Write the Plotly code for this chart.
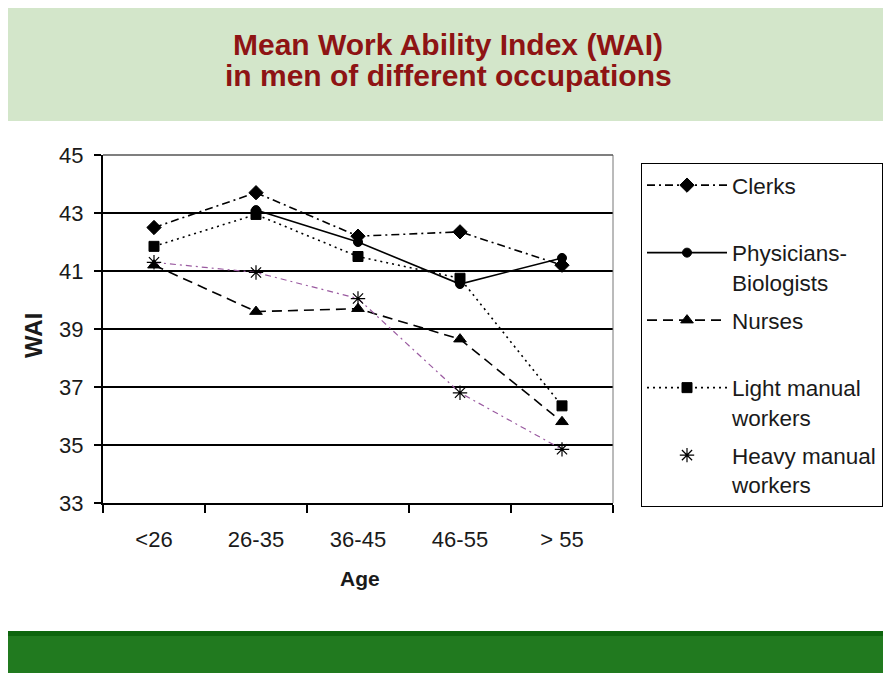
import plotly.graph_objects as go

ages = ["<26", "26-35", "36-45", "46-55", "> 55"]
clerks = [42.5, 43.7, 42.2, 42.35, 41.2]
physicians = [None, 43.1, 42.0, 40.55, 41.45]
nurses = [41.2, 39.6, 39.7, 38.65, 35.8]
light_manual = [41.85, 42.95, 41.5, 40.75, 36.35]
heavy_manual = [41.3, 40.95, 40.05, 36.8, 34.85]
y_ticks = [33, 35, 37, 39, 41, 43, 45]
title_lines = ["Mean Work Ability Index (WAI)", "in men of different occupations"]

FONT = "Arial, Liberation Sans, sans-serif"
OFF = 8  # page body margin offset
W, H = 891 - OFF, 676 - OFF
fig = go.Figure()

def add(name, y, dash, symbol, size, group, color="black", width=1.6):
    fig.add_trace(go.Scatter(
        x=ages, y=y, name=name, mode="lines+markers", legendgroup=group,
        line=dict(color=color, width=width, dash=dash),
        marker=dict(symbol=symbol, size=size, color="black",
                    line=dict(color="black", width=1)),
        connectgaps=False))

add("Clerks<br> ", clerks, "8px,4px,2px,4px", "diamond", 11, "a")
add("Physicians-<br>Biologists", physicians, "solid", "circle", 9, "b")
add("Nurses<br> ", nurses, "10px,6px", "triangle-up", 11, "c")
add("Light manual<br>workers", light_manual, "2px,4px", "square", 10, "d")
fig.add_trace(go.Scatter(
    x=ages, y=heavy_manual, mode="lines", showlegend=False, legendgroup="e",
    line=dict(color="#9a5aa0", width=1.2, dash="6px,4px,2px,4px")))
fig.add_trace(go.Scatter(
    x=ages, y=heavy_manual, name="Heavy manual<br>workers", mode="markers",
    legendgroup="e",
    marker=dict(symbol="asterisk-open", size=12, color="black",
                line=dict(color="black", width=1.2))))

# page-pixel -> paper coordinates (plot area spans page x 103..613, y 155..503)
def px_x(p):
    return (p - 103) / 510.0

def px_y(p):
    return (503 - p) / 348.0

shapes = [
    dict(type="rect", xref="paper", yref="paper", x0=px_x(0), x1=px_x(891),
         y0=px_y(121), y1=px_y(8), fillcolor="#d3e6ca", line=dict(width=0),
         layer="below"),
    dict(type="rect", xref="paper", yref="paper", x0=px_x(0), x1=px_x(891),
         y0=px_y(673), y1=px_y(631), fillcolor="#217a1f", line=dict(width=0),
         layer="below"),
    dict(type="rect", xref="paper", yref="paper", x0=px_x(0), x1=px_x(891),
         y0=px_y(636), y1=px_y(631), fillcolor="#0e650e", line=dict(width=0),
         layer="below"),
    dict(type="line", xref="paper", yref="paper", x0=1, x1=1, y0=0, y1=1,
         line=dict(color="#777777", width=1)),
    dict(type="line", xref="paper", yref="paper", x0=0, x1=1, y0=1, y1=1,
         line=dict(color="#555555", width=1.5)),
]

annotations = [
    dict(text="<b>WAI</b>", xref="paper", yref="paper", x=px_x(33), y=px_y(336),
         xanchor="center", yanchor="middle", textangle=-90, showarrow=False,
         font=dict(family=FONT, size=24, color="#1a1a1a")),
    dict(text="<b>Age</b>", xref="paper", yref="paper", x=px_x(360), y=px_y(578),
         xanchor="center", yanchor="middle", showarrow=False,
         font=dict(family=FONT, size=21, color="#1a1a1a")),
]
for line_text, ypage in zip(title_lines, [44, 76]):
    annotations.append(dict(
        text=line_text, xref="paper", yref="paper", x=px_x(448), y=px_y(ypage),
        xanchor="center", yanchor="middle", showarrow=False,
        font=dict(family=FONT, size=30, color="#8e1414", weight="bold")))

fig.update_layout(
    width=W, height=H,
    margin=dict(l=103 - OFF, r=W - (613 - OFF), t=155 - OFF, b=H - (503 - OFF),
                autoexpand=False),
    paper_bgcolor="white", plot_bgcolor="white",
    font=dict(family=FONT, color="#1a1a1a", size=22),
    shapes=shapes,
    showlegend=True,
    legend=dict(x=px_x(641), y=px_y(163), xanchor="left", yanchor="top",
                bgcolor="white", bordercolor="black", borderwidth=1,
                font=dict(family=FONT, size=22.5, color="#1a1a1a"),
                valign="top", tracegroupgap=6, traceorder="grouped",
                itemwidth=80),
    annotations=annotations,
)
fig.update_xaxes(type="category", categoryorder="array", categoryarray=ages,
                 range=[-0.5, 4.5], showgrid=False, showline=True,
                 linecolor="black", linewidth=2, ticks="outside",
                 tickson="boundaries", ticklen=8, tickwidth=2, tickcolor="black",
                 ticklabelstandoff=16, tickfont=dict(size=22))
fig.update_yaxes(range=[33, 45], tickvals=y_ticks, showgrid=True,
                 gridcolor="black", gridwidth=1.6, showline=True,
                 linecolor="black", linewidth=2, ticks="outside", ticklen=7,
                 tickwidth=2, tickcolor="black", zeroline=False,
                 ticklabelstandoff=6, tickfont=dict(size=22))

fig.write_html("out.html")
